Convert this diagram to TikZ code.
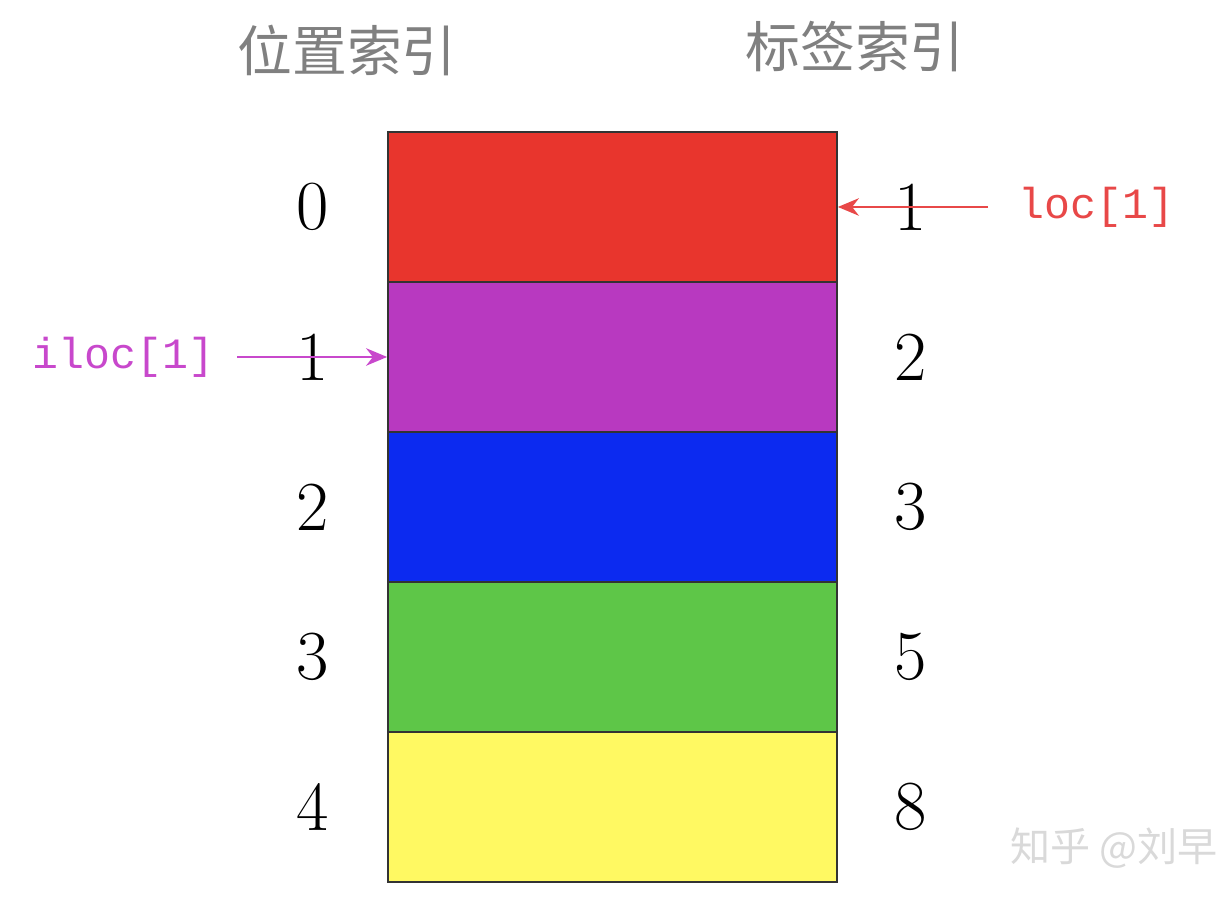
\documentclass[tikz,border=0pt]{standalone}
\usepackage{fontspec}
\usepackage{xcolor}
\usepackage{tikz}
\usetikzlibrary{arrows.meta,positioning}
\newfontfamily\cjk{Noto Sans CJK SC}
\setmonofont{Liberation Mono}
\definecolor{rowred}{RGB}{232,53,45}
\definecolor{rowpurple}{RGB}{184,57,192}
\definecolor{rowblue}{RGB}{12,42,240}
\definecolor{rowgreen}{RGB}{94,198,72}
\definecolor{rowyellow}{RGB}{255,249,98}
\definecolor{locred}{RGB}{232,72,72}
\definecolor{ilocpink}{RGB}{200,72,204}
\definecolor{headgray}{RGB}{128,128,128}

\begin{document}
\begin{tikzpicture}[
    rowbox/.style={draw=black!80, line width=0.5pt, minimum width=4.49cm, minimum height=1.5cm, inner sep=0pt},
    idx/.style={font=\fontsize{20}{24}\selectfont},
    head/.style={font=\cjk\fontsize{15.6}{19}\selectfont, text=headgray},
    tag/.style={font=\ttfamily\fontsize{12.3}{15}\selectfont}
  ]
    \useasboundingbox (0,0) rectangle (12.24,9.16);
    % headers
    \node[head] (poshead) at (3.47,8.66) {位置索引};
    \node[head] (labhead) at (8.55,8.69) {标签索引};
    % rows with both indices
    \foreach \i/\col/\lab in {0/rowred/1, 1/rowpurple/2, 2/rowblue/3, 3/rowgreen/5, 4/rowyellow/8} {
        \node[rowbox, fill=\col] (r\i) at (6.125,7.09-1.5*\i) {};
        \node[idx] (p\i) at (3.13,7.09-1.5*\i) {\i};
        \node[idx] (l\i) at (9.11,7.09-1.5*\i) {\lab};
    }
    % loc / iloc
    \node[tag, text=locred, anchor=west, inner sep=0pt] (loc) at (10.18,7.09) {loc[1]};
    \draw[locred, line width=0.45pt, -{Stealth[length=6pt,width=5pt]}] ([xshift=-0.3cm]loc.west) -- (r0.east);
    \node[tag, text=ilocpink, anchor=east, inner sep=0pt] (iloc) at (2.15,5.59) {iloc[1]};
    \draw[ilocpink, line width=0.45pt, -{Stealth[length=6pt,width=5pt]}] ([xshift=0.22cm]iloc.east) -- (r1.west);
    % watermark
    \node[font=\cjk\fontsize{11.4}{14}\selectfont, text=black!15, anchor=west, inner sep=0pt] (mark) at (10.1,0.68) {知乎 @刘早};
\end{tikzpicture}
\end{document}
